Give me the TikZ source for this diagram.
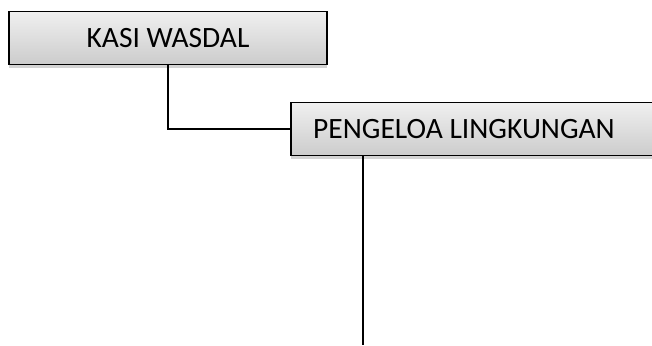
\documentclass[tikz,border=0pt]{standalone}
\usepackage{fontspec}
\setmainfont{Carlito}
\usetikzlibrary{shadows}

\tikzset{
  unitbox/.style={draw, line width=1.4pt, top color=gray!12, bottom color=gray!40,
    drop shadow={shadow xshift=0pt, shadow yshift=-3pt, opacity=0.35},
    minimum height=53pt, font=\fontsize{29.5}{31}\selectfont, inner sep=0pt},
  link/.style={line width=1.6pt}
}

\begin{document}
\begin{tikzpicture}[x=1pt, y=-1pt]
				\useasboundingbox (0, 0) rectangle (652, 345);
				\path (168, 38) node[unitbox, minimum width=318pt] (kasi){KASI WASDAL}
				(491, 129) node[unitbox, minimum width=400pt] (pengelola){};
				\node[anchor=west, inner sep=0pt, font=\fontsize{29.5}{31}\selectfont] (judul) at (313, 129) {PENGELOA LINGKUNGAN};
				\coordinate (bawah) at (363, 345);
				
				\draw[link] (kasi.south) |- (pengelola.west);
				\draw[link] (pengelola.south -| bawah) -- (bawah);
			\end{tikzpicture}
\end{document}
